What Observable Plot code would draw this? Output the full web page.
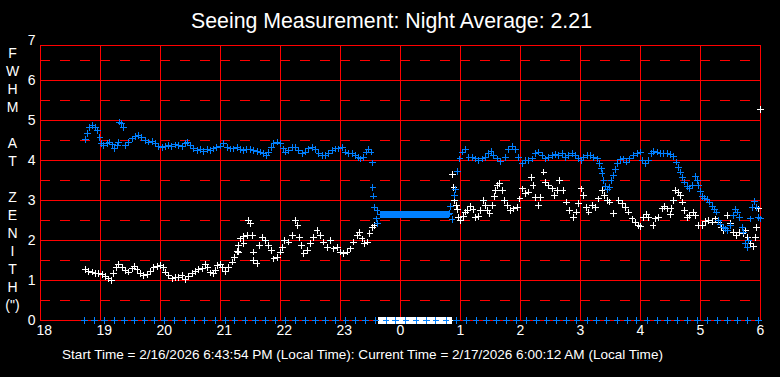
<!DOCTYPE html>
<html><head><meta charset="utf-8">
<script src="https://cdn.jsdelivr.net/npm/d3@7"></script>
<script src="https://cdn.jsdelivr.net/npm/@observablehq/plot@0.6"></script>
<style>
html,body{margin:0;padding:0;background:#000;}
#wrap{position:relative;width:780px;height:377px;overflow:hidden;background:#000;font-family:"Liberation Sans",Arial,sans-serif;color:#fff;}
#chart{position:absolute;left:0;top:0;}
#title{position:absolute;left:391.5px;top:11px;transform:translateX(-50%);white-space:nowrap;font-size:21.3px;line-height:1;}
#caption{position:absolute;left:362.5px;top:347.5px;transform:translateX(-50%);white-space:nowrap;font-size:13.55px;line-height:1;}
#ylabel{position:absolute;left:0;top:44px;width:25px;text-align:center;font-size:14px;line-height:18px;}
#ylabel div{height:18px;}
</style>
</head><body>
<div id="wrap">
  <div id="chart"></div>
  <div id="title"></div>
  <div id="ylabel"></div>
  <div id="caption"></div>
</div>
<script>
const titleText = "Seeing Measurement: Night Average: 2.21";
const captionText = "Start Time = 2/16/2026 6:43:54 PM (Local Time): Current Time = 2/17/2026 6:00:12 AM (Local Time)";
const yTitleLetters = ["F","W","H","M","","A","T","","Z","E","N","I","T","H","(\")"];
const xTicks = [18,19,20,21,22,23,24,25,26,27,28,29,30];
const yTicks = [0,1,2,3,4,5,6,7];
const solidLevels = [1,2,3,4,5,6];
const dashedLevels = [0.5,1.5,2.5,3.5,4.5,5.5,6.5];
const hourLines = [19,20,21,22,23,24,25,26,27,28,29];
const frameTop = 6.875;

// blue series: [hour, FWHM]
const blueSeries = [
[18.75,4.52],[18.78,4.67],[18.82,4.82],[18.86,4.87],[18.92,4.83],[18.955,4.75],[18.99,4.58],[19.01,4.42],
[19.055,4.37],[19.11,4.42],[19.155,4.46],[19.195,4.39],[19.23,4.29],[19.28,4.37],[19.305,4.46],
[19.32,4.96],[19.35,4.92],[19.38,4.83],
[19.42,4.37],[19.47,4.46],[19.53,4.54],[19.58,4.6],[19.64,4.62],[19.69,4.58],[19.75,4.5],[19.8,4.46],
[19.86,4.47],[19.92,4.42],[19.97,4.35],[20.03,4.32],[20.08,4.35],[20.14,4.37],[20.19,4.35],[20.25,4.39],
[20.3,4.37],[20.36,4.35],[20.42,4.42],[20.455,4.46],[20.5,4.37],[20.555,4.29],[20.61,4.25],[20.67,4.27],
[20.72,4.23],[20.78,4.27],[20.83,4.25],[20.89,4.29],[20.94,4.33],[21.0,4.36],[21.055,4.42],[21.11,4.33],
[21.17,4.29],[21.22,4.29],[21.28,4.32],[21.33,4.27],[21.39,4.25],[21.44,4.27],[21.5,4.27],[21.555,4.25],
[21.61,4.23],[21.67,4.21],[21.72,4.17],[21.77,4.12],[21.8,4.21],[21.845,4.33],[21.89,4.42],[21.945,4.46],
[22.0,4.42],[22.045,4.29],[22.08,4.21],[22.14,4.25],[22.195,4.33],[22.25,4.33],[22.305,4.25],[22.36,4.17],
[22.42,4.21],[22.47,4.29],[22.53,4.33],[22.58,4.27],[22.64,4.17],[22.695,4.12],[22.75,4.12],[22.8,4.17],
[22.86,4.25],[22.92,4.29],[22.97,4.29],[23.03,4.33],[23.08,4.21],[23.14,4.17],[23.195,4.17],[23.25,4.12],
[23.305,4.08],[23.33,4.04],[23.39,4.08],[23.43,4.21],[23.47,4.27],[23.51,4.21],[23.53,3.94],[23.54,3.32],
[23.555,3.11],[23.57,2.83],[23.595,2.54],[23.61,2.75],[23.62,2.43],
[24.82,2.67],[24.83,2.85],[24.86,2.52],[24.9,3.12],[24.92,3.27],[24.955,3.72],[24.99,4.04],[25.03,4.21],
[25.08,4.27],[25.14,4.08],[25.195,4.08],[25.25,4.04],[25.305,4.0],[25.36,4.04],[25.42,4.08],[25.47,4.17],
[25.51,4.23],[25.555,4.12],[25.61,4.04],[25.67,3.98],[25.75,4.08],[25.805,4.27],[25.86,4.35],[25.92,4.27],
[25.97,4.08],[26.03,3.92],[26.08,4.0],[26.14,4.0],[26.195,4.04],[26.25,4.18],[26.305,4.21],[26.36,4.12],
[26.42,4.04],[26.47,4.08],[26.53,4.12],[26.58,4.15],[26.64,4.12],[26.695,4.17],[26.75,4.08],[26.8,4.12],
[26.86,4.17],[26.92,4.12],[26.97,4.04],[27.01,4.0],[27.055,4.08],[27.11,4.12],[27.17,4.12],[27.22,4.08],
[27.28,4.04],[27.32,3.92],[27.345,3.79],[27.36,3.67],[27.39,3.5],[27.42,3.35],[27.445,3.27],[27.49,3.32],
[27.51,3.5],[27.545,3.62],[27.58,3.77],[27.62,3.92],[27.67,4.02],[27.72,4.04],[27.77,3.96],[27.82,4.04],
[27.88,4.12],[27.945,4.18],[28.0,4.21],[28.03,4.0],[28.08,3.92],[28.14,4.0],[28.18,4.17],[28.22,4.23],
[28.28,4.21],[28.33,4.17],[28.39,4.18],[28.445,4.17],[28.5,4.15],[28.555,4.1],[28.595,3.96],[28.63,3.83],
[28.67,3.71],[28.695,3.58],[28.73,3.46],[28.78,3.35],[28.82,3.29],[28.86,3.37],[28.92,3.6],[28.945,3.5],
[28.97,3.37],[29.0,3.23],[29.03,3.1],[29.07,3.06],[29.11,3.02],[29.155,2.96],[29.195,2.85],[29.23,2.77],
[29.27,2.71],[29.305,2.5],[29.33,2.4],[29.38,2.33],[29.42,2.29],[29.455,2.25],[29.5,2.37],[29.545,2.62],
[29.58,2.77],[29.62,2.71],[29.655,2.58],[29.695,2.33],[29.72,2.21],[29.75,1.92],[29.78,1.83],[29.805,2.0],
[29.83,2.54],[29.86,2.83],[29.9,2.98],[29.93,2.83],[29.97,2.58],[30.0,2.54]
];
// blue series: flat stretch around midnight
const blueFlatValue = 2.65;
const blueFlatTimes = [23.67,23.68,23.70,23.72,23.73,23.75,23.77,23.78,23.80,23.82,23.83,23.85,23.87,23.88,
23.90,23.92,23.93,23.95,23.97,23.98,24.00,24.02,24.03,24.05,24.07,24.08,24.10,24.12,24.13,24.15,24.17,24.18,
24.20,24.22,24.23,24.25,24.27,24.28,24.30,24.32,24.33,24.35,24.37,24.38,24.40,24.42,24.43,24.45,24.47,24.48,
24.50,24.52,24.53,24.55,24.57,24.58,24.60,24.62,24.63,24.65,24.67,24.68,24.70,24.72,24.73,24.75,24.77,24.78,24.80];

// white series: [hour, FWHM]
const whiteSeries = [
[18.75,1.27],[18.805,1.23],[18.86,1.21],[18.92,1.18],[18.97,1.17],[19.03,1.15],[19.08,1.1],[19.14,1.04],
[19.18,1.0],[19.22,1.17],[19.27,1.33],[19.3,1.4],[19.36,1.33],[19.42,1.25],[19.47,1.21],[19.53,1.29],
[19.57,1.35],[19.61,1.27],[19.67,1.18],[19.72,1.12],[19.78,1.15],[19.83,1.23],[19.89,1.32],[19.945,1.35],
[20.0,1.37],[20.045,1.32],[20.08,1.21],[20.14,1.12],[20.195,1.04],[20.25,1.07],[20.3,1.08],[20.36,1.12],
[20.42,1.02],[20.47,1.1],[20.53,1.17],[20.58,1.23],[20.64,1.27],[20.695,1.29],[20.75,1.4],[20.79,1.33],
[20.83,1.19],[20.88,1.17],[20.92,1.25],[20.955,1.37],[21.0,1.41],[21.03,1.33],[21.08,1.23],[21.14,1.33],
[21.195,1.46],[21.23,1.58],[21.28,1.73],[21.305,1.87],[21.33,2.04],[21.39,2.1],[21.445,2.12],[21.47,2.5],
[21.5,2.42],[21.53,2.12],[21.39,1.92],[21.305,1.71],[21.545,1.71],[21.555,1.5],[21.61,1.42],[21.655,1.87],
[21.695,2.08],[21.75,2.0],[21.805,1.87],[21.845,1.75],[21.89,1.54],[21.945,1.58],[22.0,1.71],[22.03,1.83],
[22.07,2.0],[22.14,1.96],[22.195,2.12],[22.25,2.5],[22.29,2.37],[22.32,2.08],[22.345,1.87],[22.39,1.67],
[22.445,1.75],[22.5,1.92],[22.555,2.08],[22.61,2.25],[22.67,2.12],[22.72,1.96],[22.78,1.83],[22.83,2.0],
[22.89,1.79],[22.945,1.83],[23.0,1.71],[23.055,1.67],[23.11,1.71],[23.17,1.79],[23.22,1.96],[23.28,2.12],
[23.32,2.21],[23.36,2.04],[23.4,1.92],[23.445,1.96],[23.49,2.17],[23.53,2.33],[23.57,2.37],
[24.87,3.65],[24.89,3.32],[24.905,3.0],[24.93,2.87],[24.955,2.77],[24.97,2.58],[25.0,2.5],[25.045,2.6],
[25.08,2.71],[25.12,2.75],[25.17,2.85],[25.21,2.77],[25.25,2.57],[25.295,2.6],[25.33,2.75],[25.38,3.0],
[25.42,2.87],[25.445,2.75],[25.49,2.68],[25.53,2.87],[25.57,3.1],[25.61,3.37],[25.655,3.43],[25.58,3.25],
[25.695,3.25],[25.73,3.0],[25.78,2.87],[25.83,2.75],[25.89,2.79],[25.945,2.83],[25.99,3.04],[26.03,3.29],
[26.08,3.17],[26.14,3.21],[26.18,3.58],[26.21,3.37],[26.25,3.08],[26.305,2.87],[26.33,3.07],[26.39,3.71],
[26.42,3.46],[26.47,3.37],[26.53,3.29],[26.57,3.12],[26.61,3.25],[26.655,3.5],[26.71,3.25],[26.77,2.96],
[26.82,2.75],[26.88,2.58],[26.93,2.71],[26.97,2.92],[27.01,3.29],[27.055,3.12],[27.1,2.83],[27.14,2.71],
[27.195,2.87],[27.25,2.83],[27.305,3.04],[27.36,3.25],[27.4,3.12],[27.445,3.0],[27.49,2.96],[27.555,2.67],
[27.64,3.0],[27.695,2.92],[27.75,2.83],[27.805,2.71],[27.86,2.54],[27.92,2.46],[27.97,2.37],[28.0,2.35],
[28.055,2.58],[28.1,2.65],[28.14,2.57],[28.21,2.37],[28.25,2.54],[28.305,2.57],[28.36,2.79],[28.4,2.85],
[28.455,2.79],[28.51,2.8],[28.5,2.65],[28.555,3.0],[28.58,3.25],[28.64,3.21],[28.67,3.12],[28.695,2.96],
[28.73,2.75],[28.78,2.58],[28.82,2.62],[28.88,2.71],[28.92,2.62],[28.97,2.37],[29.03,2.37],[29.08,2.48],
[29.14,2.5],[29.195,2.46],[29.25,2.54],[29.305,2.46],[29.345,2.33],[29.39,2.25],[29.445,2.62],[29.5,2.42],
[29.555,2.21],[29.6,2.12],[29.655,2.21],[29.71,2.17],[29.75,2.25],[29.79,2.08],[29.83,1.93],[29.88,1.85],
[29.92,2.08],[29.93,2.33],[29.97,2.79],[30.0,5.27]
];

// markers drawn at zero (no measurement)
const blueZeroTimes = [18.73,18.90,19.07,19.23,19.40,19.57,19.74,19.90,20.07,20.24,20.41,20.57,20.74,20.91,
21.08,21.24,21.41,21.58,21.75,21.91,22.08,22.25,22.42,22.58,22.75,22.92,23.09,23.25,23.42,23.59,23.76,23.92,
24.09,24.26,24.43,24.59,24.76,24.93,25.10,25.26,25.43,25.60,25.77,25.93,26.10,26.27,26.44,26.60,26.77,26.94,
27.11,27.27,27.44,27.61,27.78,27.94,28.11,28.28,28.45,28.61,28.78,28.95,29.12,29.28,29.45,29.62,29.79,29.97];
const whiteZeroTimes = [23.63,23.65,23.67,23.68,23.70,23.72,23.73,23.75,23.77,23.78,23.80,23.82,23.83,23.85,
23.87,23.88,23.90,23.92,23.93,23.95,23.97,23.98,24.00,24.02,24.03,24.05,24.07,24.08,24.10,24.12,24.13,24.15,
24.17,24.18,24.20,24.22,24.23,24.25,24.27,24.28,24.30,24.32,24.33,24.35,24.37,24.38,24.40,24.42,24.43,24.45,
24.47,24.48,24.50,24.52,24.53,24.55,24.57,24.58,24.60,24.62,24.63,24.65,24.67,24.68,24.70,24.72,24.73,24.75,
24.77,24.78,24.80,24.82,24.83,24.85];

const blueColor = "#0080ff";
const gridColor = "#ff0000";

document.getElementById("title").textContent = titleText;
document.getElementById("caption").textContent = captionText;
const yl = document.getElementById("ylabel");
for (const ch of yTitleLetters) { const d = document.createElement("div"); d.textContent = ch; yl.appendChild(d); }

const blueAll = blueSeries.concat(blueFlatTimes.map(t => [t, blueFlatValue]));
const plusR = 2.3;
const dotStyle = {symbol: "plus", r: plusR, strokeWidth: 1, shapeRendering: "crispEdges"};
const chart = Plot.plot({
  width: 780, height: 377,
  marginLeft: 40, marginRight: 20, marginTop: 40, marginBottom: 57,
  style: {background: "#000", color: "#fff", fontFamily: "'Liberation Sans', Arial, sans-serif", fontSize: "14px"},
  x: {domain: [18, 30], label: null},
  y: {domain: [0, 7], label: null},
  marks: [
    Plot.ruleY(dashedLevels, {x1: 18, x2: 30, stroke: gridColor, strokeDasharray: "10,10", shapeRendering: "crispEdges"}),
    Plot.ruleY(solidLevels, {x1: 18, x2: 30, stroke: gridColor, shapeRendering: "crispEdges"}),
    Plot.ruleX(hourLines, {y1: 0, y2: frameTop, stroke: gridColor, shapeRendering: "crispEdges"}),
    Plot.ruleX([18, 30], {y1: 0, y2: frameTop, stroke: gridColor, shapeRendering: "crispEdges"}),
    Plot.ruleY([0, frameTop], {x1: 18, x2: 30, stroke: gridColor, shapeRendering: "crispEdges"}),
    Plot.axisX({ticks: xTicks, tickSize: 0, tickPadding: 5, tickFormat: d => String(d % 24), textAnchor: "start", dx: -4, fontSize: 14, label: null}),
    Plot.axisY({ticks: yTicks, tickSize: 0, tickPadding: 5, tickFormat: d => String(d), fontSize: 14, label: null}),
    Plot.dot(whiteSeries, {x: d => d[0], y: d => d[1], stroke: "#fff", ...dotStyle}),
    Plot.dot(blueAll, {x: d => d[0], y: d => d[1], stroke: blueColor, ...dotStyle}),
    Plot.dot(whiteZeroTimes, {x: d => d, y: 0, stroke: "#fff", ...dotStyle}),
    Plot.dot(blueZeroTimes, {x: d => d, y: 0, stroke: blueColor, ...dotStyle})
  ]
});
document.getElementById("chart").appendChild(chart);
</script>
</body></html>
